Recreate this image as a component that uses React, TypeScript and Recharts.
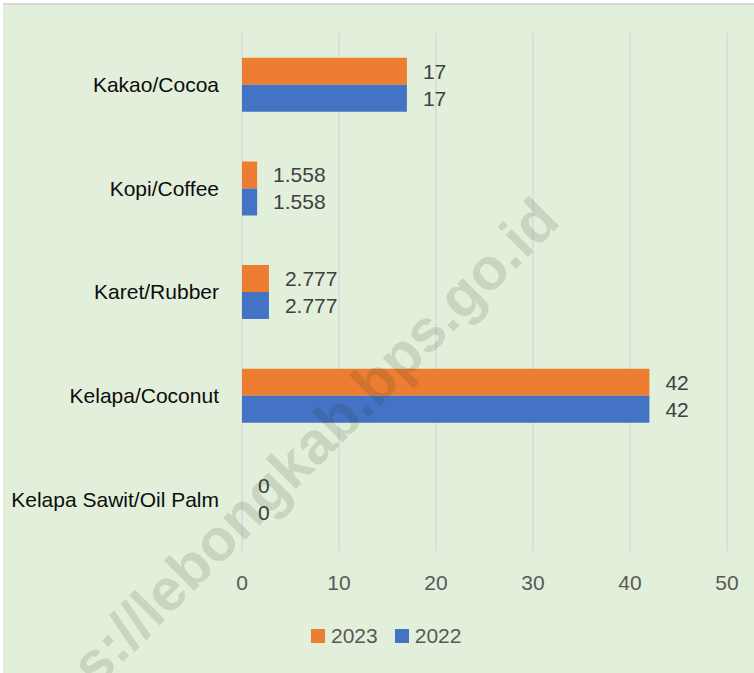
import React from 'react';
import { BarChart, Bar, XAxis, YAxis, CartesianGrid, LabelList } from 'recharts';

const categories = ['Kakao/Cocoa', 'Kopi/Coffee', 'Karet/Rubber', 'Kelapa/Coconut', 'Kelapa Sawit/Oil Palm'];
const values2023 = [17, 1.558, 2.777, 42, 0];
const values2022 = [17, 1.558, 2.777, 42, 0];
const xTicks = [0, 10, 20, 30, 40, 50];
const seriesNames = ['2023', '2022'];
const seriesColors = ['#ED7D31', '#4472C4'];
const watermark = 'https://lebongkab.bps.go.id';

const data = categories.map((name, i) => ({ name, v2023: values2023[i], v2022: values2022[i] }));

const FONT = '"Liberation Sans", Arial, sans-serif';

const ValueLabel = (props: any) => {
  const { x, y, width, height, value } = props;
  return (
    <text
      x={Number(x) + Number(width) + 16}
      y={Number(y) + Number(height) / 2}
      dominantBaseline="central"
      textAnchor="start"
      fill="#404040"
      fontSize={21}
      fontFamily={FONT}
    >
      {String(value)}
    </text>
  );
};

const minSize = (v: any) => (v === 0 ? 0.01 : 0);

export default function App() {
  return (
    <div style={{ position: 'absolute', left: 0, top: 0, width: 754, height: 673, overflow: 'hidden' }}>
      <div style={{ position: 'absolute', left: 3, top: 3, right: 0, height: 2, background: '#D9D9D9' }} />
      <div style={{ position: 'absolute', left: 3, top: 5, right: 0, bottom: 0, background: '#E2EFDA' }} />
      <div style={{ position: 'absolute', left: 0, top: 0 }}>
        <BarChart
          width={754}
          height={673}
          data={data}
          layout="vertical"
          margin={{ top: 33, right: 27, bottom: 92, left: 0 }}
          barCategoryGap="24%"
          barGap={0}
        >
          <CartesianGrid horizontal={false} stroke="#D9D9D9" strokeWidth={1.5} />
          <XAxis
            type="number"
            domain={[0, 50]}
            ticks={xTicks}
            axisLine={false}
            tickLine={false}
            tickSize={6}
            tickMargin={18}
            height={30}
            tick={{ fill: '#595959', fontSize: 21, fontFamily: FONT }}
          />
          <YAxis
            type="category"
            dataKey="name"
            width={242}
            axisLine={false}
            tickLine={false}
            tickSize={6}
            tickMargin={17}
            tick={{ fill: '#0D0D0D', fontSize: 21, fontFamily: FONT }}
          />
          <Bar dataKey="v2023" name={seriesNames[0]} fill={seriesColors[0]} minPointSize={minSize} isAnimationActive={false}>
            <LabelList dataKey="v2023" content={ValueLabel} />
          </Bar>
          <Bar dataKey="v2022" name={seriesNames[1]} fill={seriesColors[1]} minPointSize={minSize} isAnimationActive={false}>
            <LabelList dataKey="v2022" content={ValueLabel} />
          </Bar>
        </BarChart>
      </div>
      <div
        style={{
          position: 'absolute',
          left: 311,
          top: 624,
          display: 'flex',
          alignItems: 'center',
          fontFamily: FONT,
          fontSize: 21,
          color: '#595959',
          lineHeight: '24px',
        }}
      >
        {seriesNames.map((n, i) => (
          <div key={n} style={{ display: 'flex', alignItems: 'center', marginRight: i === 0 ? 17 : 0 }}>
            <span style={{ display: 'inline-block', width: 14, height: 14, background: seriesColors[i], marginRight: 6 }} />
            <span>{n}</span>
          </div>
        ))}
      </div>
      <svg width={754} height={673} style={{ position: 'absolute', left: 0, top: 0, pointerEvents: 'none' }}>
        <text
          x={562}
          y={223}
          transform="rotate(-45 562 223)"
          textAnchor="end"
          fontFamily={FONT}
          fontWeight="bold"
          fontSize={59}
          fill="rgba(40,60,30,0.14)"
        >
          {watermark}
        </text>
      </svg>
    </div>
  );
}
